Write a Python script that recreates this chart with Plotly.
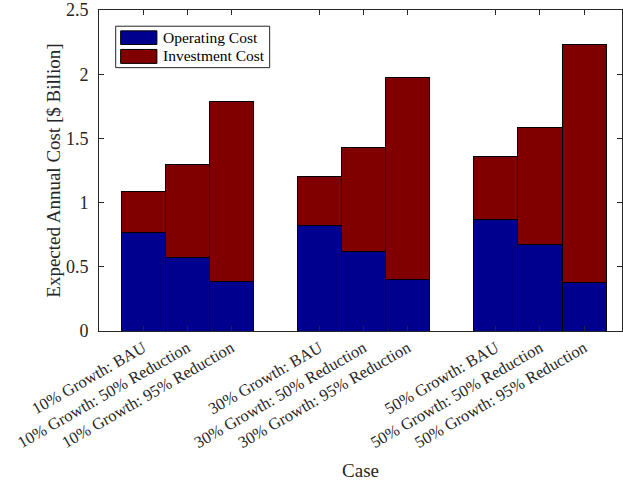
import plotly.graph_objects as go

cases = ["10% Growth: BAU", "10% Growth: 50% Reduction", "10% Growth: 95% Reduction",
         "30% Growth: BAU", "30% Growth: 50% Reduction", "30% Growth: 95% Reduction",
         "50% Growth: BAU", "50% Growth: 50% Reduction", "50% Growth: 95% Reduction"]
positions = [1, 2, 3, 5, 6, 7, 9, 10, 11]
operating_cost = [0.769, 0.575, 0.387, 0.820, 0.619, 0.400, 0.872, 0.671, 0.377]
investment_cost = [0.317, 0.723, 1.401, 0.385, 0.808, 1.576, 0.488, 0.916, 1.854]
y_ticks = [0, 0.5, 1, 1.5, 2, 2.5]
y_ticktext = ["0", "0.5", "1", "1.5", "2", "2.5"]
series_names = ["Operating Cost", "Investment Cost"]
series_colors = ["#00008F", "#800000"]

font_family = "Liberation Serif"
txt = "#262626"

fig = go.Figure()
for name, vals, col in zip(series_names, [operating_cost, investment_cost], series_colors):
    fig.add_trace(go.Bar(x=positions, y=vals, width=1, name=name, showlegend=False,
                         marker=dict(color=col, line=dict(color="black", width=1))))

# custom legend (MATLAB style wide patches)
shapes = [dict(type="rect", xref="paper", yref="paper", x0=0.0319, x1=0.3263, y0=0.8204, y1=0.9495,
               line=dict(color=txt, width=1), fillcolor="white", layer="above")]
annotations = []
patch_y = [(0.8926, 0.935), (0.8337, 0.8771)]
text_y = [0.9149, 0.8576]
for name, col, (py0, py1), ty in zip(series_names, series_colors, patch_y, text_y):
    shapes.append(dict(type="rect", xref="paper", yref="paper", x0=0.0414, x1=0.1107, y0=py0, y1=py1,
                       line=dict(color="black", width=1), fillcolor=col, layer="above"))
    annotations.append(dict(xref="paper", yref="paper", x=0.1183, y=ty, xanchor="left", yanchor="middle",
                            text=name, showarrow=False,
                            font=dict(size=15.5, family=font_family, color="black")))

fig.update_layout(
    width=623, height=482,
    margin=dict(l=99, r=0, t=8, b=151),
    barmode="stack",
    plot_bgcolor="white", paper_bgcolor="white",
    font=dict(family=font_family, size=16, color=txt),
    showlegend=False,
    shapes=shapes, annotations=annotations,
    xaxis=dict(range=[0, 11.86], tickmode="array", tickvals=positions, ticktext=cases,
               tickangle=-30, ticks="inside", ticklen=5, tickcolor=txt,
               showline=True, linecolor=txt, linewidth=1, mirror="ticks",
               showgrid=False, zeroline=False,
               tickfont=dict(size=16.5, family=font_family, color=txt),
               title=dict(text="Case", font=dict(size=19, family=font_family, color=txt), standoff=12)),
    yaxis=dict(range=[0, 2.5], tickmode="array", tickvals=y_ticks, ticktext=y_ticktext,
               ticks="inside", ticklen=5, tickcolor=txt, ticklabeloverflow="allow",
               ticklabelstandoff=6,
               showline=True, linecolor=txt, linewidth=1, mirror="ticks",
               showgrid=False, zeroline=False,
               tickfont=dict(size=18, family=font_family, color=txt),
               title=dict(text="Expected Annual Cost [$ Billion]",
                          font=dict(size=19, family=font_family, color=txt), standoff=0)),
)

fig.write_html("out.html")
